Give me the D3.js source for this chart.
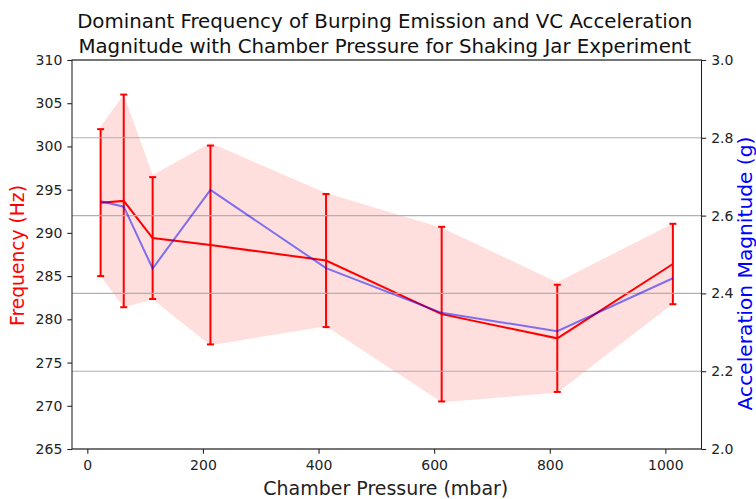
<!DOCTYPE html>
<html>
<head>
<meta charset="utf-8">
<script src="https://cdn.jsdelivr.net/npm/d3@7"></script>
<style>
    body { margin: 0; background: #fff; }
    svg { display: block; font-family: "DejaVu Sans", sans-serif; }
</style>
</head>
<body>
<div id="chart"></div>
<script>
// Chamber pressure (mbar)
var pressure = [23, 63, 113, 213, 413, 613, 813, 1013];
// dominant frequency (Hz) and its error bars
var freq = [293.5, 293.7, 289.4, 288.6, 286.8, 280.6, 277.8, 286.4];
var freqErr = [8.5, 12.3, 7.05, 11.5, 7.7, 10.1, 6.2, 4.65];
// shaded band around the frequency
var bandUpper = [302.3, 306.0, 296.7, 300.4, 294.6, 290.6, 284.3, 291.1];
var bandLower = [285.0, 281.4, 282.3, 277.0, 279.2, 270.4, 271.5, 281.8];
// VC acceleration magnitude (g)
var accel = [2.637, 2.623, 2.464, 2.666, 2.465, 2.350, 2.303, 2.439];

var xTicks = [0, 200, 400, 600, 800, 1000];
var freqTicks = [265, 270, 275, 280, 285, 290, 295, 300, 305, 310];
var accelTicks = [2.0, 2.2, 2.4, 2.6, 2.8, 3.0];

function draw_chart() {

    var W = 756, H = 499;
    var margin = { top: 60, right: 54.5, bottom: 50, left: 72 },
        width = W - margin.left - margin.right,
        height = H - margin.top - margin.bottom;

    var rows = pressure.map(function (p, i) {
        return { p: p, f: freq[i], e: freqErr[i], hi: bandUpper[i], lo: bandLower[i], a: accel[i] };
    });

    // matplotlib style 5% margins on x
    var xmin = d3.min(pressure), xmax = d3.max(pressure), pad = (xmax - xmin) * 0.05;
    var xScale = d3.scaleLinear().domain([xmin - pad, xmax + pad]).range([0, width]);
    var yScale = d3.scaleLinear().domain([265, 310]).range([height, 0]);
    var y2Scale = d3.scaleLinear().domain([2.0, 3.0]).range([height, 0]);

    var svg = d3.select('#chart').append('svg')
        .attr("width", W)
        .attr("height", H);

    var g = svg.append("g")
        .attr("transform", "translate(" + margin.left + "," + margin.top + ")");

    // shaded band
    var band = d3.area()
        .x(function (d) { return xScale(d.p); })
        .y0(function (d) { return yScale(d.lo); })
        .y1(function (d) { return yScale(d.hi); });

    g.append("path")
        .datum(rows)
        .attr("d", band)
        .attr("fill", "rgba(255,0,0,0.13)");

    // error bars
    var cap = 3.5;
    var eb = g.selectAll(".err").data(rows).enter().append("g").attr("class", "err")
        .attr("stroke", "red").attr("stroke-width", 2);
    eb.append("line")
        .attr("x1", function (d) { return xScale(d.p); })
        .attr("x2", function (d) { return xScale(d.p); })
        .attr("y1", function (d) { return yScale(d.f - d.e); })
        .attr("y2", function (d) { return yScale(d.f + d.e); });
    eb.append("line")
        .attr("x1", function (d) { return xScale(d.p) - cap; })
        .attr("x2", function (d) { return xScale(d.p) + cap; })
        .attr("y1", function (d) { return yScale(d.f + d.e); })
        .attr("y2", function (d) { return yScale(d.f + d.e); });
    eb.append("line")
        .attr("x1", function (d) { return xScale(d.p) - cap; })
        .attr("x2", function (d) { return xScale(d.p) + cap; })
        .attr("y1", function (d) { return yScale(d.f - d.e); })
        .attr("y2", function (d) { return yScale(d.f - d.e); });

    // frequency line
    g.append("path")
        .datum(rows)
        .attr("fill", "none")
        .attr("stroke", "red")
        .attr("stroke-width", 2)
        .attr("d", d3.line()
            .x(function (d) { return xScale(d.p); })
            .y(function (d) { return yScale(d.f); }));

    // grid from the right axis
    g.selectAll(".grid").data(accelTicks).enter().append("line")
        .attr("x1", 0).attr("x2", width)
        .attr("y1", function (d) { return y2Scale(d); })
        .attr("y2", function (d) { return y2Scale(d); })
        .attr("stroke", "#b0b0b0")
        .attr("stroke-width", 1.07);

    // acceleration line
    g.append("path")
        .datum(rows)
        .attr("fill", "none")
        .attr("stroke", "rgba(0,0,255,0.5)")
        .attr("stroke-width", 2)
        .attr("d", d3.line()
            .x(function (d) { return xScale(d.p); })
            .y(function (d) { return y2Scale(d.a); }));

    // axes
    var xAxis = d3.axisBottom(xScale).tickValues(xTicks).tickFormat(d3.format("d"))
        .tickSize(4.7).tickSizeOuter(0).tickPadding(6.5);
    var yAxis = d3.axisLeft(yScale).tickValues(freqTicks).tickSize(4.7).tickSizeOuter(0).tickPadding(5);
    var y2Axis = d3.axisRight(y2Scale).tickValues(accelTicks).tickFormat(d3.format(".1f"))
        .tickSize(4.7).tickSizeOuter(0).tickPadding(5);

    g.append("g").attr("class", "x axis")
        .attr("transform", "translate(0," + height + ")")
        .call(xAxis);
    g.append("g").attr("class", "y axis")
        .call(yAxis);
    g.append("g").attr("class", "y2 axis")
        .attr("transform", "translate(" + width + ",0)")
        .call(y2Axis);
    g.selectAll(".axis .domain").remove();
    g.selectAll(".axis")
        .attr("font-family", "DejaVu Sans")
        .attr("font-size", 14);
    g.selectAll(".axis text").attr("fill", "#222");
    g.selectAll(".axis line").attr("stroke", "#222").attr("stroke-width", 1.07);

    // frame
    g.append("rect")
        .attr("width", width).attr("height", height)
        .attr("fill", "none").attr("stroke", "#222").attr("stroke-width", 1.07);

    // labels
    g.append("text")
        .attr("x", width / 2 - 1).attr("y", height + 46)
        .attr("text-anchor", "middle")
        .style("font-size", "19px").style("fill", "#222")
        .text("Chamber Pressure (mbar)");

    svg.append("text")
        .attr("transform", "translate(24," + (margin.top + height / 2 + 1) + ") rotate(-90)")
        .attr("text-anchor", "middle")
        .style("font-size", "18.7px").style("fill", "red")
        .text("Frequency (Hz)");

    svg.append("text")
        .attr("transform", "translate(752,273.5) rotate(-90)")
        .attr("text-anchor", "middle")
        .style("font-size", "20.2px").style("fill", "blue")
        .text("Acceleration Magnitude (g)");

    var title = svg.append("text")
        .attr("text-anchor", "middle")
        .style("font-size", "19.8px").style("fill", "#111");
    title.append("tspan").attr("x", margin.left + width / 2 - 2).attr("y", 28.3)
        .text("Dominant Frequency of Burping Emission and VC Acceleration");
    title.append("tspan").attr("x", margin.left + width / 2 - 2).attr("y", 52.5)
        .text("Magnitude with Chamber Pressure for Shaking Jar Experiment");
}

draw_chart();
</script>
</body>
</html>
